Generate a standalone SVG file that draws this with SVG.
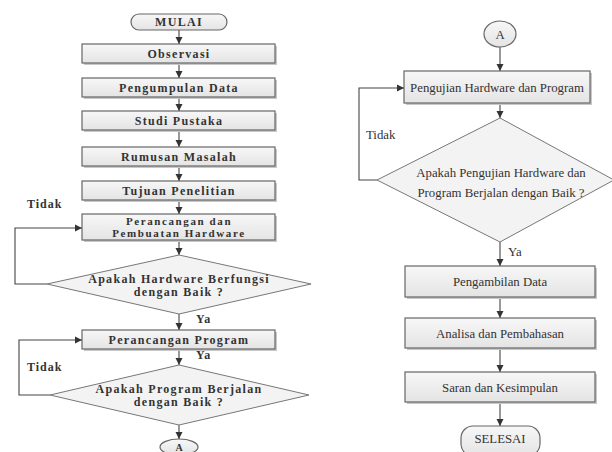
<svg xmlns="http://www.w3.org/2000/svg" width="612" height="452" viewBox="0 0 612 452">
<defs>
<linearGradient id="g" x1="0" y1="0" x2="0" y2="1">
<stop offset="0" stop-color="#f7f7f7"/>
<stop offset="1" stop-color="#e4e4e4"/>
</linearGradient>
<marker id="ah" markerWidth="8" markerHeight="8" refX="7" refY="4" orient="auto" markerUnits="userSpaceOnUse">
<path d="M0,0.5 L7,4 L0,7.5 Z" fill="#333"/>
</marker>
</defs>
<style>
.box{fill:url(#g);stroke:#666;stroke-width:1.2}
.sh{fill:#c8c8c8}
.dia{fill:#f3f3f3;stroke:#777;stroke-width:1}
.arr{fill:none;stroke:#444;stroke-width:1.1;marker-end:url(#ah)}
text{font-family:"Liberation Serif","Times New Roman",Times,serif;fill:#333}
.tl{font-size:12px;font-weight:bold;letter-spacing:1.3px;text-anchor:middle}
.ts{font-size:11px;font-weight:bold;letter-spacing:1.6px;text-anchor:middle}
.tr{font-size:12.8px;text-anchor:middle}
.lb{font-size:12px;font-weight:bold;letter-spacing:1px}
.lr{font-size:12.8px}
</style>
<rect width="612" height="452" fill="#fff"/>

<g id="connectors">
<line class="arr" x1="179" y1="30" x2="179" y2="44"/>
<line class="arr" x1="179" y1="63" x2="179" y2="78"/>
<line class="arr" x1="179" y1="97" x2="179" y2="111"/>
<line class="arr" x1="179" y1="130" x2="179" y2="147"/>
<line class="arr" x1="179" y1="166" x2="179" y2="181"/>
<line class="arr" x1="179" y1="200" x2="179" y2="214"/>
<line class="arr" x1="179" y1="240" x2="179" y2="255"/>
<polyline class="arr" points="47,284 15,284 15,228 82,228"/>
<line class="arr" x1="179" y1="314" x2="179" y2="330"/>
<line class="arr" x1="179" y1="349" x2="179" y2="365"/>
<polyline class="arr" points="50,395 19,395 19,340 82,340"/>
<line class="arr" x1="179" y1="425" x2="179" y2="439"/>
<line class="arr" x1="500" y1="47" x2="500" y2="71"/>
<line class="arr" x1="500" y1="103" x2="500" y2="118"/>
<polyline class="arr" points="377,180 359,180 359,88 404,88"/>
<line class="arr" x1="500" y1="242" x2="500" y2="266"/>
<line class="arr" x1="500" y1="297" x2="500" y2="318"/>
<line class="arr" x1="500" y1="348" x2="500" y2="372"/>
<line class="arr" x1="500" y1="402" x2="500" y2="426"/>
</g>

<g id="mulai">
<rect x="131" y="14" width="96" height="16" rx="8" class="box"/>
<text class="tl" x="179" y="26">MULAI</text>
</g>
<g id="observasi">
<rect class="sh" x="84" y="46" width="193" height="19"/>
<rect class="box" x="82" y="44" width="193" height="19"/>
<text class="tl" x="179" y="57.5">Observasi</text>
</g>
<g id="pengumpulan">
<rect class="sh" x="84" y="80" width="193" height="19"/>
<rect class="box" x="82" y="78" width="193" height="19"/>
<text class="tl" x="179" y="91.5">Pengumpulan Data</text>
</g>
<g id="studi">
<rect class="sh" x="84" y="113" width="193" height="19"/>
<rect class="box" x="82" y="111" width="193" height="19"/>
<text class="tl" x="179" y="124.5">Studi Pustaka</text>
</g>
<g id="rumusan">
<rect class="sh" x="84" y="149" width="193" height="19"/>
<rect class="box" x="82" y="147" width="193" height="19"/>
<text class="tl" x="179" y="160.5">Rumusan Masalah</text>
</g>
<g id="tujuan">
<rect class="sh" x="84" y="183" width="193" height="19"/>
<rect class="box" x="82" y="181" width="193" height="19"/>
<text class="tl" x="179" y="194.5">Tujuan Penelitian</text>
</g>
<g id="perancangan-hw">
<rect class="sh" x="84" y="216" width="193" height="26"/>
<rect class="box" x="82" y="214" width="193" height="26"/>
<text class="ts" x="179" y="224.5">Perancangan dan</text>
<text class="ts" x="179" y="237">Pembuatan Hardware</text>
</g>
<g id="cek-hw">
<polygon class="dia" points="179,255 311,284 179,314 47,284"/>
<text class="tl" x="179" y="283">Apakah Hardware Berfungsi</text>
<text class="tl" x="179" y="296">dengan Baik ?</text>
</g>
<g id="perancangan-prog">
<rect class="sh" x="84" y="332" width="193" height="19"/>
<rect class="box" x="82" y="330" width="193" height="19"/>
<text class="tl" x="179" y="343.5">Perancangan Program</text>
</g>
<g id="cek-prog">
<polygon class="dia" points="179,365 309,395 179,425 50,395"/>
<text class="tl" x="179" y="393">Apakah Program Berjalan</text>
<text class="tl" x="179" y="406">dengan Baik ?</text>
</g>
<g id="a-bawah">
<ellipse class="box" cx="179" cy="447" rx="19" ry="8"/>
<text x="179" y="450.5" font-size="10" text-anchor="middle" font-weight="bold">A</text>
</g>
<g id="labels-left">
<text class="lb" x="27" y="208">Tidak</text>
<text class="lb" x="196" y="323">Ya</text>
<text class="lb" x="196" y="359">Ya</text>
<text class="lb" x="27" y="371">Tidak</text>
</g>

<g id="a-atas">
<ellipse class="box" cx="500" cy="34" rx="16" ry="13"/>
<text class="tr" x="500" y="38.5">A</text>
</g>
<g id="pengujian">
<rect class="sh" x="406" y="73" width="186" height="32"/>
<rect class="box" x="404" y="71" width="186" height="32"/>
<text class="tr" x="497" y="91.5">Pengujian Hardware dan Program</text>
</g>
<g id="cek-pengujian">
<polygon class="dia" points="500,118 614,180 500,242 377,180"/>
<text class="tr" x="501" y="177">Apakah Pengujian Hardware dan</text>
<text class="tr" x="501" y="197">Program Berjalan dengan Baik ?</text>
</g>
<g id="pengambilan">
<rect class="sh" x="407" y="268" width="190" height="31"/>
<rect class="box" x="405" y="266" width="190" height="31"/>
<text class="tr" x="500" y="285.5">Pengambilan Data</text>
</g>
<g id="analisa">
<rect class="sh" x="407" y="320" width="190" height="30"/>
<rect class="box" x="405" y="318" width="190" height="30"/>
<text class="tr" x="500" y="337.5">Analisa dan Pembahasan</text>
</g>
<g id="saran">
<rect class="sh" x="407" y="374" width="190" height="30"/>
<rect class="box" x="405" y="372" width="190" height="30"/>
<text class="tr" x="500" y="391.5">Saran dan Kesimpulan</text>
</g>
<g id="selesai">
<rect class="box" x="461" y="426" width="79" height="30" rx="12"/>
<text class="tr" x="500" y="443">SELESAI</text>
</g>
<g id="labels-right">
<text class="lr" x="366" y="139">Tidak</text>
<text class="lr" x="508" y="256">Ya</text>
</g>
</svg>
